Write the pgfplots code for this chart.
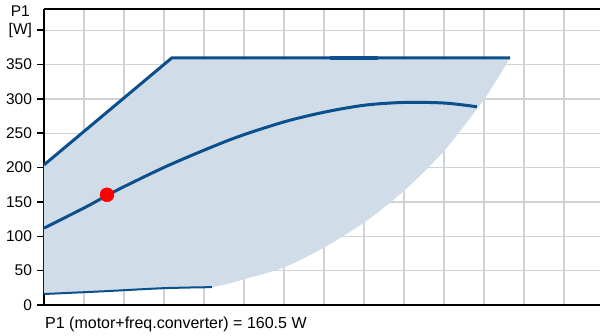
\documentclass[border=0pt]{standalone}
\usepackage{pgfplots}
\pgfplotsset{compat=1.18}
\usepackage{fontspec}
\setmainfont{Liberation Sans}
\definecolor{curve}{HTML}{0B4F8C}
\definecolor{areac}{HTML}{D0DCE8}
\definecolor{gridc}{HTML}{D0D3D6}
\begin{document}
\begin{tikzpicture}
\path[use as bounding box] (-44pt,-31pt) rectangle (556pt,305pt);
\begin{axis}[
  at={(0,0)}, anchor=south west,
  scale only axis, width=556pt, height=296pt,
  xmin=0, xmax=13.9, ymin=0, ymax=431,
  xtick={0,1,...,13}, xticklabels={},
  xtick style={draw=none},
  ytick={0,50,...,400},
  yticklabels={0,50,100,150,200,250,300,350,{[W]}},
  ytick pos=left, tick align=outside,
  major tick length=7pt,
  ytick style={black, line width=1.6pt},
  grid=major,
  major grid style={gridc, line width=1.5pt},
  axis line style={black, line width=1.6pt},
  axis x line*=bottom, axis y line*=left,
  /pgf/number format/assume math mode=true,
  tick label style={font=\fontsize{15.5}{17}\selectfont},
  yticklabel style={xshift=-1.5pt},
  clip=false,
]
\addplot[fill=areac, draw=none, forget plot] coordinates {
 (0,204) (3.2,360) (11.65,360) (11.025,301.7) (10.025,226) (9.025,167.6) (8.025,121) (4.2,26.2) (0,16)} -- cycle;
\addplot[fill=areac, draw=none, smooth, forget plot] coordinates {
 (0,16) (1.5,20) (3,24.5) (4.2,26.2) (5.025,37.9) (6.025,55.4) (7.025,84.5)
 (8.025,121) (9.025,167.6) (10.025,226) (11.025,301.7) (11.65,360)} -- cycle;
\draw[black, line width=1.6pt] (axis cs:0,431) -- (axis cs:13.9,431);
\addplot[curve, line width=3pt] coordinates {(0,204) (3.2,360) (11.65,360)};
\addplot[curve, line width=4pt] coordinates {(7.15,360) (8.35,360)};
\addplot[curve, line width=3pt, smooth] coordinates {
 (0,112) (1.025,142) (1.575,159.5) (2.025,173) (3.025,201) (4.025,226) (4.9,246)
 (6.025,267) (7.025,281) (8.025,291) (9.025,295) (10.025,294) (10.825,288.6)};
\addplot[curve, line width=2pt, smooth] coordinates {
 (0,16) (1.5,20) (3,24.5) (4.2,26)};
\addplot[only marks, mark=*, mark size=7pt, color=red] coordinates {(1.575,160.5)};
\node[anchor=base east, font=\fontsize{15.5}{17}\selectfont, inner sep=0pt] at ([xshift=-14pt,yshift=14pt]axis cs:0,400) {P1};
\node[anchor=base west, font=\fontsize{16}{18}\selectfont, inner sep=0pt] at ([xshift=1pt,yshift=-24pt]axis cs:0,0) {P1 (motor+freq.converter) = 160.5 W};
\end{axis}
\end{tikzpicture}
\end{document}
